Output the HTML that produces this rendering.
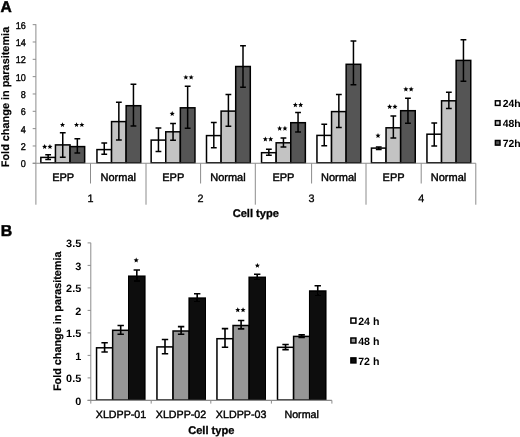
<!DOCTYPE html>
<html><head><meta charset="utf-8"><title>Figure</title>
<style>html,body{margin:0;padding:0;background:#fff;}body{width:520px;height:437px;overflow:hidden;font-family:"Liberation Sans", sans-serif;}svg,svg text{font-family:"Liberation Sans", sans-serif;}</style>
</head><body>
<svg width="520" height="437" viewBox="0 0 520 437" text-rendering="geometricPrecision" style="display:block">
<defs><filter id="bl" x="0" y="0" width="520" height="437" filterUnits="userSpaceOnUse"><feGaussianBlur stdDeviation="0.45"/></filter></defs>
<g filter="url(#bl)">
<rect x="-5" y="-5" width="530" height="447" fill="#fff"/>
<text x="0.4" y="12.1" font-size="15.6" font-weight="700" fill="#000" stroke="#000" stroke-width="0.5">A</text>
<text x="0.7" y="235.6" font-size="15.8" font-weight="700" fill="#000" stroke="#000" stroke-width="0.5">B</text>
<g stroke="#8c8c8c" stroke-width="1" fill="none">
<path d="M35.9 24.2V163.3"/>
<path d="M32.699999999999996 163.30H35.9"/>
<path d="M32.699999999999996 145.97H35.9"/>
<path d="M32.699999999999996 128.64H35.9"/>
<path d="M32.699999999999996 111.31H35.9"/>
<path d="M32.699999999999996 93.98H35.9"/>
<path d="M32.699999999999996 76.65H35.9"/>
<path d="M32.699999999999996 59.32H35.9"/>
<path d="M32.699999999999996 41.99H35.9"/>
<path d="M32.699999999999996 24.66H35.9"/>
<path d="M35.9 163.3V204.7"/>
<path d="M90.5 163.3V183.5"/>
<path d="M146.0 163.3V204.7"/>
<path d="M200.6 163.3V183.5"/>
<path d="M255.3 163.3V204.7"/>
<path d="M311.6 163.3V183.5"/>
<path d="M366.0 163.3V204.7"/>
<path d="M421.2 163.3V183.5"/>
<path d="M475.8 163.3V204.7"/>
</g>
<text x="20.74" y="167.45" font-size="9.9" textLength="5.06" lengthAdjust="spacingAndGlyphs" fill="#000" stroke="#000" stroke-width="0.36">0</text>
<text x="20.74" y="150.12" font-size="9.9" textLength="5.06" lengthAdjust="spacingAndGlyphs" fill="#000" stroke="#000" stroke-width="0.36">2</text>
<text x="20.74" y="132.79" font-size="9.9" textLength="5.06" lengthAdjust="spacingAndGlyphs" fill="#000" stroke="#000" stroke-width="0.36">4</text>
<text x="20.74" y="115.46" font-size="9.9" textLength="5.06" lengthAdjust="spacingAndGlyphs" fill="#000" stroke="#000" stroke-width="0.36">6</text>
<text x="20.74" y="98.13" font-size="9.9" textLength="5.06" lengthAdjust="spacingAndGlyphs" fill="#000" stroke="#000" stroke-width="0.36">8</text>
<text x="15.67" y="80.80" font-size="9.9" textLength="10.13" lengthAdjust="spacingAndGlyphs" fill="#000" stroke="#000" stroke-width="0.36">10</text>
<text x="15.67" y="63.47" font-size="9.9" textLength="10.13" lengthAdjust="spacingAndGlyphs" fill="#000" stroke="#000" stroke-width="0.36">12</text>
<text x="15.67" y="46.14" font-size="9.9" textLength="10.13" lengthAdjust="spacingAndGlyphs" fill="#000" stroke="#000" stroke-width="0.36">14</text>
<text x="15.67" y="28.81" font-size="9.9" textLength="10.13" lengthAdjust="spacingAndGlyphs" fill="#000" stroke="#000" stroke-width="0.36">16</text>
<rect x="40.85" y="157.40" width="14.60" height="5.40" fill="#ffffff" stroke="#000" stroke-width="1.5"/>
<rect x="55.45" y="144.90" width="14.60" height="17.90" fill="#c3c3c3" stroke="#000" stroke-width="1.5"/>
<rect x="70.05" y="146.60" width="14.60" height="16.20" fill="#555555" stroke="#000" stroke-width="1.5"/>
<path d="M48.15 154.80V159.40M45.25 154.80H51.05M45.25 159.40H51.05" stroke="#000" stroke-width="1.5" fill="none"/>
<path d="M62.75 132.80V157.20M59.85 132.80H65.65M59.85 157.20H65.65" stroke="#000" stroke-width="1.5" fill="none"/>
<path d="M77.35 138.80V153.10M74.45 138.80H80.25M74.45 153.10H80.25" stroke="#000" stroke-width="1.5" fill="none"/>
<rect x="96.95" y="149.60" width="14.60" height="13.20" fill="#ffffff" stroke="#000" stroke-width="1.5"/>
<rect x="111.55" y="121.60" width="14.60" height="41.20" fill="#c3c3c3" stroke="#000" stroke-width="1.5"/>
<rect x="126.15" y="105.70" width="14.60" height="57.10" fill="#555555" stroke="#000" stroke-width="1.5"/>
<path d="M104.25 142.90V154.20M101.35 142.90H107.15M101.35 154.20H107.15" stroke="#000" stroke-width="1.5" fill="none"/>
<path d="M118.85 102.30V139.90M115.95 102.30H121.75M115.95 139.90H121.75" stroke="#000" stroke-width="1.5" fill="none"/>
<path d="M133.45 84.30V126.10M130.55 84.30H136.35M130.55 126.10H136.35" stroke="#000" stroke-width="1.5" fill="none"/>
<rect x="151.15" y="140.10" width="14.60" height="22.70" fill="#ffffff" stroke="#000" stroke-width="1.5"/>
<rect x="165.75" y="131.80" width="14.60" height="31.00" fill="#c3c3c3" stroke="#000" stroke-width="1.5"/>
<rect x="180.35" y="107.80" width="14.60" height="55.00" fill="#555555" stroke="#000" stroke-width="1.5"/>
<path d="M158.45 128.10V151.60M155.55 128.10H161.35M155.55 151.60H161.35" stroke="#000" stroke-width="1.5" fill="none"/>
<path d="M173.05 123.40V140.20M170.15 123.40H175.95M170.15 140.20H175.95" stroke="#000" stroke-width="1.5" fill="none"/>
<path d="M187.65 86.30V128.30M184.75 86.30H190.55M184.75 128.30H190.55" stroke="#000" stroke-width="1.5" fill="none"/>
<rect x="206.50" y="135.60" width="14.60" height="27.20" fill="#ffffff" stroke="#000" stroke-width="1.5"/>
<rect x="221.10" y="111.10" width="14.60" height="51.70" fill="#c3c3c3" stroke="#000" stroke-width="1.5"/>
<rect x="235.70" y="66.50" width="14.60" height="96.30" fill="#555555" stroke="#000" stroke-width="1.5"/>
<path d="M213.80 122.60V147.80M210.90 122.60H216.70M210.90 147.80H216.70" stroke="#000" stroke-width="1.5" fill="none"/>
<path d="M228.40 94.60V126.30M225.50 94.60H231.30M225.50 126.30H231.30" stroke="#000" stroke-width="1.5" fill="none"/>
<path d="M243.00 45.70V87.30M240.10 45.70H245.90M240.10 87.30H245.90" stroke="#000" stroke-width="1.5" fill="none"/>
<rect x="261.55" y="152.70" width="14.60" height="10.10" fill="#ffffff" stroke="#000" stroke-width="1.5"/>
<rect x="276.15" y="142.80" width="14.60" height="20.00" fill="#c3c3c3" stroke="#000" stroke-width="1.5"/>
<rect x="290.75" y="122.70" width="14.60" height="40.10" fill="#555555" stroke="#000" stroke-width="1.5"/>
<path d="M268.85 149.30V155.30M265.95 149.30H271.75M265.95 155.30H271.75" stroke="#000" stroke-width="1.5" fill="none"/>
<path d="M283.45 138.00V147.00M280.55 138.00H286.35M280.55 147.00H286.35" stroke="#000" stroke-width="1.5" fill="none"/>
<path d="M298.05 112.40V132.00M295.15 112.40H300.95M295.15 132.00H300.95" stroke="#000" stroke-width="1.5" fill="none"/>
<rect x="316.95" y="135.40" width="14.60" height="27.40" fill="#ffffff" stroke="#000" stroke-width="1.5"/>
<rect x="331.55" y="111.60" width="14.60" height="51.20" fill="#c3c3c3" stroke="#000" stroke-width="1.5"/>
<rect x="346.15" y="64.30" width="14.60" height="98.50" fill="#555555" stroke="#000" stroke-width="1.5"/>
<path d="M324.25 124.20V145.80M321.35 124.20H327.15M321.35 145.80H327.15" stroke="#000" stroke-width="1.5" fill="none"/>
<path d="M338.85 94.60V127.50M335.95 94.60H341.75M335.95 127.50H341.75" stroke="#000" stroke-width="1.5" fill="none"/>
<path d="M353.45 41.10V84.70M350.55 41.10H356.35M350.55 84.70H356.35" stroke="#000" stroke-width="1.5" fill="none"/>
<rect x="371.45" y="148.10" width="14.60" height="14.70" fill="#ffffff" stroke="#000" stroke-width="1.5"/>
<rect x="386.05" y="127.80" width="14.60" height="35.00" fill="#c3c3c3" stroke="#000" stroke-width="1.5"/>
<rect x="400.65" y="110.70" width="14.60" height="52.10" fill="#555555" stroke="#000" stroke-width="1.5"/>
<path d="M378.75 146.90V149.60M375.85 146.90H381.65M375.85 149.60H381.65" stroke="#000" stroke-width="1.5" fill="none"/>
<path d="M393.35 116.10V138.00M390.45 116.10H396.25M390.45 138.00H396.25" stroke="#000" stroke-width="1.5" fill="none"/>
<path d="M407.95 98.30V123.20M405.05 98.30H410.85M405.05 123.20H410.85" stroke="#000" stroke-width="1.5" fill="none"/>
<rect x="426.95" y="134.20" width="14.60" height="28.60" fill="#ffffff" stroke="#000" stroke-width="1.5"/>
<rect x="441.55" y="100.80" width="14.60" height="62.00" fill="#c3c3c3" stroke="#000" stroke-width="1.5"/>
<rect x="456.15" y="60.40" width="14.60" height="102.40" fill="#555555" stroke="#000" stroke-width="1.5"/>
<path d="M434.25 123.00V146.10M431.35 123.00H437.15M431.35 146.10H437.15" stroke="#000" stroke-width="1.5" fill="none"/>
<path d="M448.85 92.30V108.50M445.95 92.30H451.75M445.95 108.50H451.75" stroke="#000" stroke-width="1.5" fill="none"/>
<path d="M463.45 39.70V81.20M460.55 39.70H466.35M460.55 81.20H466.35" stroke="#000" stroke-width="1.5" fill="none"/>
<path d="M32.699999999999996 163.3H475.8" stroke="#8c8c8c" stroke-width="1.1" fill="none"/>
<text x="63.20" y="180.9" font-size="11" text-anchor="middle" fill="#000" stroke="#000" stroke-width="0.42">EPP</text>
<text x="118.25" y="180.9" font-size="11" text-anchor="middle" fill="#000" stroke="#000" stroke-width="0.42">Normal</text>
<text x="173.30" y="180.9" font-size="11" text-anchor="middle" fill="#000" stroke="#000" stroke-width="0.42">EPP</text>
<text x="227.95" y="180.9" font-size="11" text-anchor="middle" fill="#000" stroke="#000" stroke-width="0.42">Normal</text>
<text x="283.45" y="180.9" font-size="11" text-anchor="middle" fill="#000" stroke="#000" stroke-width="0.42">EPP</text>
<text x="338.80" y="180.9" font-size="11" text-anchor="middle" fill="#000" stroke="#000" stroke-width="0.42">Normal</text>
<text x="393.60" y="180.9" font-size="11" text-anchor="middle" fill="#000" stroke="#000" stroke-width="0.42">EPP</text>
<text x="448.50" y="180.9" font-size="11" text-anchor="middle" fill="#000" stroke="#000" stroke-width="0.42">Normal</text>
<text x="90.50" y="201.7" font-size="10.8" text-anchor="middle" fill="#000" stroke="#000" stroke-width="0.3">1</text>
<text x="200.60" y="201.7" font-size="10.8" text-anchor="middle" fill="#000" stroke="#000" stroke-width="0.3">2</text>
<text x="311.60" y="201.7" font-size="10.8" text-anchor="middle" fill="#000" stroke="#000" stroke-width="0.3">3</text>
<text x="421.20" y="201.7" font-size="10.8" text-anchor="middle" fill="#000" stroke="#000" stroke-width="0.3">4</text>
<text x="255.8" y="217.3" font-size="11.1" font-weight="700" text-anchor="middle" fill="#000" stroke="#000" stroke-width="0.3">Cell type</text>
<text transform="translate(8.7 167.2) rotate(-90)" font-size="10.9" font-weight="700" textLength="140.4" lengthAdjust="spacingAndGlyphs" fill="#000" stroke="#000" stroke-width="0.2">Fold change in parasitemia</text>
<path d="M44.65 144.10L45.36 145.83L47.22 145.97L45.79 147.17L46.24 148.98L44.65 148.00L43.06 148.98L43.51 147.17L42.08 145.97L43.94 145.83ZM49.95 144.10L50.66 145.83L52.52 145.97L51.09 147.17L51.54 148.98L49.95 148.00L48.36 148.98L48.81 147.17L47.38 145.97L49.24 145.83Z" fill="#000"/>
<path d="M62.50 122.20L63.21 123.93L65.07 124.07L63.64 125.27L64.09 127.08L62.50 126.10L60.91 127.08L61.36 125.27L59.93 124.07L61.79 123.93Z" fill="#000"/>
<path d="M76.55 122.20L77.26 123.93L79.12 124.07L77.69 125.27L78.14 127.08L76.55 126.10L74.96 127.08L75.41 125.27L73.98 124.07L75.84 123.93ZM81.85 122.20L82.56 123.93L84.42 124.07L82.99 125.27L83.44 127.08L81.85 126.10L80.26 127.08L80.71 125.27L79.28 124.07L81.14 123.93Z" fill="#000"/>
<path d="M172.20 111.10L172.91 112.83L174.77 112.97L173.34 114.17L173.79 115.98L172.20 115.00L170.61 115.98L171.06 114.17L169.63 112.97L171.49 112.83Z" fill="#000"/>
<path d="M185.85 74.70L186.56 76.43L188.42 76.57L186.99 77.77L187.44 79.58L185.85 78.60L184.26 79.58L184.71 77.77L183.28 76.57L185.14 76.43ZM191.15 74.70L191.86 76.43L193.72 76.57L192.29 77.77L192.74 79.58L191.15 78.60L189.56 79.58L190.01 77.77L188.58 76.57L190.44 76.43Z" fill="#000"/>
<path d="M265.35 136.50L266.06 138.23L267.92 138.37L266.49 139.57L266.94 141.38L265.35 140.40L263.76 141.38L264.21 139.57L262.78 138.37L264.64 138.23ZM270.65 136.50L271.36 138.23L273.22 138.37L271.79 139.57L272.24 141.38L270.65 140.40L269.06 141.38L269.51 139.57L268.08 138.37L269.94 138.23Z" fill="#000"/>
<path d="M279.65 125.80L280.36 127.53L282.22 127.67L280.79 128.87L281.24 130.68L279.65 129.70L278.06 130.68L278.51 128.87L277.08 127.67L278.94 127.53ZM284.95 125.80L285.66 127.53L287.52 127.67L286.09 128.87L286.54 130.68L284.95 129.70L283.36 130.68L283.81 128.87L282.38 127.67L284.24 127.53Z" fill="#000"/>
<path d="M295.35 102.30L296.06 104.03L297.92 104.17L296.49 105.37L296.94 107.18L295.35 106.20L293.76 107.18L294.21 105.37L292.78 104.17L294.64 104.03ZM300.65 102.30L301.36 104.03L303.22 104.17L301.79 105.37L302.24 107.18L300.65 106.20L299.06 107.18L299.51 105.37L298.08 104.17L299.94 104.03Z" fill="#000"/>
<path d="M378.00 133.00L378.71 134.73L380.57 134.87L379.14 136.07L379.59 137.88L378.00 136.90L376.41 137.88L376.86 136.07L375.43 134.87L377.29 134.73Z" fill="#000"/>
<path d="M389.65 104.10L390.36 105.83L392.22 105.97L390.79 107.17L391.24 108.98L389.65 108.00L388.06 108.98L388.51 107.17L387.08 105.97L388.94 105.83ZM394.95 104.10L395.66 105.83L397.52 105.97L396.09 107.17L396.54 108.98L394.95 108.00L393.36 108.98L393.81 107.17L392.38 105.97L394.24 105.83Z" fill="#000"/>
<path d="M405.85 86.60L406.56 88.33L408.42 88.47L406.99 89.67L407.44 91.48L405.85 90.50L404.26 91.48L404.71 89.67L403.28 88.47L405.14 88.33ZM411.15 86.60L411.86 88.33L413.72 88.47L412.29 89.67L412.74 91.48L411.15 90.50L409.56 91.48L410.01 89.67L408.58 88.47L410.44 88.33Z" fill="#000"/>
<rect x="495.4" y="100.80" width="4.6" height="4.6" fill="#ffffff" stroke="#000" stroke-width="1.5"/>
<text x="502.7" y="107.00" font-size="10.4" font-weight="700" fill="#000">24h</text>
<rect x="495.4" y="120.65" width="4.6" height="4.6" fill="#c3c3c3" stroke="#000" stroke-width="1.5"/>
<text x="502.7" y="126.85" font-size="10.4" font-weight="700" fill="#000">48h</text>
<rect x="495.4" y="140.50" width="4.6" height="4.6" fill="#555555" stroke="#000" stroke-width="1.5"/>
<text x="502.7" y="146.70" font-size="10.4" font-weight="700" fill="#000">72h</text>
<g stroke="#8c8c8c" stroke-width="1" fill="none">
<path d="M90.8 242.8V400.4"/>
<path d="M87.6 400.40H90.8"/>
<path d="M87.6 377.90H90.8"/>
<path d="M87.6 355.40H90.8"/>
<path d="M87.6 332.90H90.8"/>
<path d="M87.6 310.40H90.8"/>
<path d="M87.6 287.90H90.8"/>
<path d="M87.6 265.40H90.8"/>
<path d="M87.6 242.90H90.8"/>
<path d="M90.8 400.4V403.59999999999997"/>
<path d="M151.2 400.4V403.59999999999997"/>
<path d="M210.8 400.4V403.59999999999997"/>
<path d="M271.4 400.4V403.59999999999997"/>
<path d="M331.9 400.4V403.59999999999997"/>
</g>
<text x="75.24" y="404.80" font-size="10.6" font-weight="700" textLength="6.06" lengthAdjust="spacingAndGlyphs" fill="#000">0</text>
<text x="66.14" y="382.30" font-size="10.6" font-weight="700" textLength="15.16" lengthAdjust="spacingAndGlyphs" fill="#000">0.5</text>
<text x="75.24" y="359.80" font-size="10.6" font-weight="700" textLength="6.06" lengthAdjust="spacingAndGlyphs" fill="#000">1</text>
<text x="66.14" y="337.30" font-size="10.6" font-weight="700" textLength="15.16" lengthAdjust="spacingAndGlyphs" fill="#000">1.5</text>
<text x="75.24" y="314.80" font-size="10.6" font-weight="700" textLength="6.06" lengthAdjust="spacingAndGlyphs" fill="#000">2</text>
<text x="66.14" y="292.30" font-size="10.6" font-weight="700" textLength="15.16" lengthAdjust="spacingAndGlyphs" fill="#000">2.5</text>
<text x="75.24" y="269.80" font-size="10.6" font-weight="700" textLength="6.06" lengthAdjust="spacingAndGlyphs" fill="#000">3</text>
<text x="66.14" y="247.30" font-size="10.6" font-weight="700" textLength="15.16" lengthAdjust="spacingAndGlyphs" fill="#000">3.5</text>
<rect x="96.55" y="347.80" width="16.10" height="52.20" fill="#ffffff" stroke="#000" stroke-width="1.5"/>
<rect x="112.65" y="330.30" width="16.10" height="69.70" fill="#969696" stroke="#000" stroke-width="1.5"/>
<rect x="128.75" y="276.20" width="16.10" height="123.80" fill="#111111" stroke="#000" stroke-width="1.5"/>
<path d="M104.60 342.80V352.00M101.40 342.80H107.80M101.40 352.00H107.80" stroke="#000" stroke-width="1.6" fill="none"/>
<path d="M120.70 325.50V334.20M117.50 325.50H123.90M117.50 334.20H123.90" stroke="#000" stroke-width="1.6" fill="none"/>
<path d="M136.80 270.00V281.00M133.60 270.00H140.00M133.60 281.00H140.00" stroke="#000" stroke-width="1.6" fill="none"/>
<rect x="156.95" y="346.90" width="16.10" height="53.10" fill="#ffffff" stroke="#000" stroke-width="1.5"/>
<rect x="173.05" y="331.00" width="16.10" height="69.00" fill="#969696" stroke="#000" stroke-width="1.5"/>
<rect x="189.15" y="298.10" width="16.10" height="101.90" fill="#111111" stroke="#000" stroke-width="1.5"/>
<path d="M165.00 339.50V353.80M161.80 339.50H168.20M161.80 353.80H168.20" stroke="#000" stroke-width="1.6" fill="none"/>
<path d="M181.10 326.60V334.20M177.90 326.60H184.30M177.90 334.20H184.30" stroke="#000" stroke-width="1.6" fill="none"/>
<path d="M197.20 293.80V301.80M194.00 293.80H200.40M194.00 301.80H200.40" stroke="#000" stroke-width="1.6" fill="none"/>
<rect x="216.95" y="338.70" width="16.10" height="61.30" fill="#ffffff" stroke="#000" stroke-width="1.5"/>
<rect x="233.05" y="325.50" width="16.10" height="74.50" fill="#969696" stroke="#000" stroke-width="1.5"/>
<rect x="249.15" y="277.30" width="16.10" height="122.70" fill="#111111" stroke="#000" stroke-width="1.5"/>
<path d="M225.00 328.60V347.20M221.80 328.60H228.20M221.80 347.20H228.20" stroke="#000" stroke-width="1.6" fill="none"/>
<path d="M241.10 320.50V328.90M237.90 320.50H244.30M237.90 328.90H244.30" stroke="#000" stroke-width="1.6" fill="none"/>
<path d="M257.20 274.20V279.40M254.00 274.20H260.40M254.00 279.40H260.40" stroke="#000" stroke-width="1.6" fill="none"/>
<rect x="277.50" y="347.30" width="16.10" height="52.70" fill="#ffffff" stroke="#000" stroke-width="1.5"/>
<rect x="293.60" y="336.40" width="16.10" height="63.60" fill="#969696" stroke="#000" stroke-width="1.5"/>
<rect x="309.70" y="291.00" width="16.10" height="109.00" fill="#111111" stroke="#000" stroke-width="1.5"/>
<path d="M285.55 344.50V349.60M282.35 344.50H288.75M282.35 349.60H288.75" stroke="#000" stroke-width="1.6" fill="none"/>
<path d="M301.65 334.90V337.40M298.45 334.90H304.85M298.45 337.40H304.85" stroke="#000" stroke-width="1.6" fill="none"/>
<path d="M317.75 285.80V295.20M314.55 285.80H320.95M314.55 295.20H320.95" stroke="#000" stroke-width="1.6" fill="none"/>
<path d="M87.6 400.4H331.9" stroke="#8c8c8c" stroke-width="1.1" fill="none"/>
<text x="121.00" y="418.3" font-size="10.7" text-anchor="middle" fill="#000" stroke="#000" stroke-width="0.4">XLDPP-01</text>
<text x="181.00" y="418.3" font-size="10.7" text-anchor="middle" fill="#000" stroke="#000" stroke-width="0.4">XLDPP-02</text>
<text x="241.10" y="418.3" font-size="10.7" text-anchor="middle" fill="#000" stroke="#000" stroke-width="0.4">XLDPP-03</text>
<text x="301.65" y="418.3" font-size="10.7" text-anchor="middle" fill="#000" stroke="#000" stroke-width="0.4">Normal</text>
<text x="211.3" y="434.3" font-size="11.1" font-weight="700" text-anchor="middle" fill="#000" stroke="#000" stroke-width="0.3">Cell type</text>
<text transform="translate(60.5 391) rotate(-90)" font-size="10.9" font-weight="700" textLength="139.5" lengthAdjust="spacingAndGlyphs" fill="#000" stroke="#000" stroke-width="0.2">Fold change in parasitemia</text>
<path d="M136.20 257.60L136.91 259.33L138.77 259.47L137.34 260.67L137.79 262.48L136.20 261.50L134.61 262.48L135.06 260.67L133.63 259.47L135.49 259.33Z" fill="#000"/>
<path d="M237.75 307.30L238.46 309.03L240.32 309.17L238.89 310.37L239.34 312.18L237.75 311.20L236.16 312.18L236.61 310.37L235.18 309.17L237.04 309.03ZM243.05 307.30L243.76 309.03L245.62 309.17L244.19 310.37L244.64 312.18L243.05 311.20L241.46 312.18L241.91 310.37L240.48 309.17L242.34 309.03Z" fill="#000"/>
<path d="M257.40 262.90L258.11 264.63L259.97 264.77L258.54 265.97L258.99 267.78L257.40 266.80L255.81 267.78L256.26 265.97L254.83 264.77L256.69 264.63Z" fill="#000"/>
<rect x="350.9" y="318.10" width="5.0" height="5.0" fill="#ffffff" stroke="#000" stroke-width="1.5"/>
<text x="358.2" y="325.00" font-size="10.6" font-weight="700" fill="#000">24 h</text>
<rect x="350.9" y="338.00" width="5.0" height="5.0" fill="#969696" stroke="#000" stroke-width="1.5"/>
<text x="358.2" y="344.90" font-size="10.6" font-weight="700" fill="#000">48 h</text>
<rect x="350.9" y="357.90" width="5.0" height="5.0" fill="#111111" stroke="#000" stroke-width="1.5"/>
<text x="358.2" y="364.80" font-size="10.6" font-weight="700" fill="#000">72 h</text>
</g>
</svg>
</body></html>
